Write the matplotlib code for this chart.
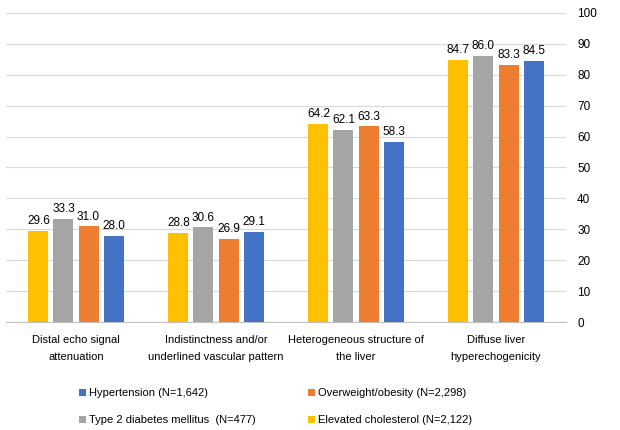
import matplotlib.pyplot as plt
import numpy as np

plt.rcParams['font.family'] = ['Liberation Sans', 'DejaVu Sans']

categories = ['Distal echo signal\nattenuation',
              'Indistinctness and/or\nunderlined vascular pattern',
              'Heterogeneous structure of\nthe liver',
              'Diffuse liver\nhyperechogenicity']
series = ['Elevated cholesterol (N=2,122)', 'Type 2 diabetes mellitus  (N=477)',
          'Overweight/obesity (N=2,298)', 'Hypertension (N=1,642)']
cholesterol = [29.6, 28.8, 64.2, 84.7]
diabetes = [33.3, 30.6, 62.1, 86.0]
obesity = [31.0, 26.9, 63.3, 83.3]
hypertension = [28.0, 29.1, 58.3, 84.5]
colors = ['#FFC000', '#A5A5A5', '#ED7D31', '#4472C4']

fig = plt.figure(figsize=(6.2, 4.3), dpi=100)
ax = fig.add_axes([6/620, 0.251, 560/620, 0.719])

x = np.arange(len(categories))
pitch = 0.179
width = 0.143
bars = {}
for i, (vals, name, c) in enumerate(zip([cholesterol, diabetes, obesity, hypertension], series, colors)):
    pos = x + (i - 1.5) * pitch
    b = ax.bar(pos, vals, width, color=c, label=name, zorder=3)
    bars[name] = b
    for p, v in zip(pos, vals):
        ax.text(p, v + 1.2, f'{v:.1f}', ha='center', va='bottom', fontsize=8.5)

ax.set_xlim(-0.5, 3.5)
ax.set_ylim(0, 100)
ax.set_yticks(range(0, 101, 10))
ax.yaxis.tick_right()
ax.tick_params(axis='y', length=0, pad=8, labelsize=8.5)
ax.tick_params(axis='x', length=0, pad=9, labelsize=8)
ax.set_xticks(x)
ax.set_xticklabels(categories, linespacing=1.9)
ax.grid(axis='y', color='#D9D9D9', linewidth=0.8, zorder=0)
for s in ['top', 'left', 'right']:
    ax.spines[s].set_visible(False)
ax.spines['bottom'].set_color('#BFBFBF')

order = [series[3], series[1], series[2], series[0]]
fig.legend([bars[n] for n in order], order, ncol=2, loc='upper left',
           bbox_to_anchor=(0.128, 1 - 388/430), frameon=False, fontsize=8,
           borderpad=0, borderaxespad=0,
           handlelength=0.6, handleheight=0.6, handletextpad=0.3,
           columnspacing=4.7, labelspacing=1.55)

fig.savefig('out.png', dpi=100)
